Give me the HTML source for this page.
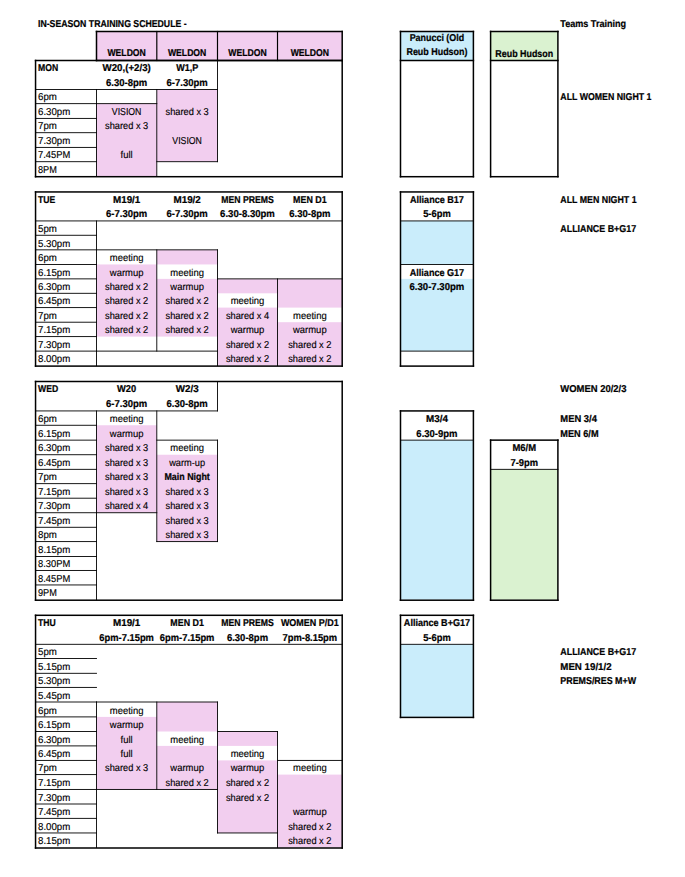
<!DOCTYPE html>
<html><head><meta charset="utf-8"><title>In-Season Training Schedule</title>
<style>html,body{margin:0;padding:0;background:#fff;}svg{display:block;}text{font-family:"Liberation Sans",sans-serif;fill:#000;text-rendering:geometricPrecision;}.b{font-weight:bold;stroke:#000;stroke-width:0.22px;}.r{stroke:#000;stroke-width:0.15px;}</style></head><body>
<svg width="685" height="877" viewBox="0 0 685 877">
<rect x="0" y="0" width="685" height="877" fill="#fff"/>
<rect x="96.5" y="31.5" width="60.3" height="29" fill="#F2CEEF"/>
<rect x="156.8" y="31.5" width="60.7" height="29" fill="#F2CEEF"/>
<rect x="217.5" y="31.5" width="60" height="29" fill="#F2CEEF"/>
<rect x="277.5" y="31.5" width="64.7" height="29" fill="#F2CEEF"/>
<rect x="400.5" y="31.5" width="72.9" height="29" fill="#CAEDFB"/>
<rect x="490.6" y="31.5" width="67.3" height="29" fill="#DAF2D0"/>
<rect x="96.5" y="103.65" width="60.3" height="72.55" fill="#F2CEEF"/>
<rect x="156.8" y="89.5" width="60.7" height="72.2" fill="#F2CEEF"/>
<rect x="96.5" y="264.45" width="60.3" height="72.15" fill="#F2CEEF"/>
<rect x="156.8" y="249.85" width="60.7" height="14.6" fill="#F2CEEF"/>
<rect x="156.8" y="278.87" width="60.7" height="57.73" fill="#F2CEEF"/>
<rect x="217.5" y="278.87" width="60" height="14.43" fill="#F2CEEF"/>
<rect x="217.5" y="307.6" width="60" height="58" fill="#F2CEEF"/>
<rect x="277.5" y="278.87" width="64.7" height="28.73" fill="#F2CEEF"/>
<rect x="277.5" y="322.2" width="64.7" height="43.4" fill="#F2CEEF"/>
<rect x="400.5" y="220.93" width="72.9" height="43.52" fill="#CAEDFB"/>
<rect x="400.5" y="278.87" width="72.9" height="72.23" fill="#CAEDFB"/>
<rect x="96.5" y="425.26" width="60.3" height="87.48" fill="#F2CEEF"/>
<rect x="156.8" y="454.73" width="60.7" height="86.87" fill="#F2CEEF"/>
<rect x="400.5" y="440.13" width="72.9" height="159.57" fill="#CAEDFB"/>
<rect x="490.6" y="469.33" width="67.3" height="130.37" fill="#DAF2D0"/>
<rect x="96.5" y="716.9" width="60.3" height="72.53" fill="#F2CEEF"/>
<rect x="156.8" y="702" width="60.7" height="29.5" fill="#F2CEEF"/>
<rect x="156.8" y="745.9" width="60.7" height="43.53" fill="#F2CEEF"/>
<rect x="217.5" y="731.5" width="60" height="14.4" fill="#F2CEEF"/>
<rect x="217.5" y="760.4" width="60" height="72.56" fill="#F2CEEF"/>
<rect x="277.5" y="774.6" width="64.7" height="72.9" fill="#F2CEEF"/>
<rect x="400.5" y="644.3" width="72.9" height="72.6" fill="#CAEDFB"/>
<rect x="95.75" y="30.75" width="247.2" height="1.5" fill="#000"/>
<rect x="95.75" y="59.75" width="247.2" height="1.5" fill="#000"/>
<rect x="95.75" y="30.75" width="1.5" height="30.5" fill="#000"/>
<rect x="341.45" y="30.75" width="1.5" height="30.5" fill="#000"/>
<rect x="156.22" y="30.91" width="1.17" height="30.17" fill="#000"/>
<rect x="216.91" y="30.91" width="1.17" height="30.17" fill="#000"/>
<rect x="276.92" y="30.91" width="1.17" height="30.17" fill="#000"/>
<rect x="399.75" y="30.75" width="74.4" height="1.5" fill="#000"/>
<rect x="399.75" y="175.95" width="74.4" height="1.5" fill="#000"/>
<rect x="399.75" y="30.75" width="1.5" height="146.7" fill="#000"/>
<rect x="472.65" y="30.75" width="1.5" height="146.7" fill="#000"/>
<rect x="489.85" y="30.75" width="68.8" height="1.5" fill="#000"/>
<rect x="489.85" y="175.95" width="68.8" height="1.5" fill="#000"/>
<rect x="489.85" y="30.75" width="1.5" height="146.7" fill="#000"/>
<rect x="557.15" y="30.75" width="1.5" height="146.7" fill="#000"/>
<rect x="399.75" y="59.75" width="74.4" height="1.5" fill="#000"/>
<rect x="489.85" y="59.75" width="68.8" height="1.5" fill="#000"/>
<rect x="34.8" y="59.75" width="308.15" height="1.5" fill="#000"/>
<rect x="34.8" y="175.95" width="308.15" height="1.5" fill="#000"/>
<rect x="34.8" y="59.75" width="1.5" height="117.7" fill="#000"/>
<rect x="341.45" y="59.75" width="1.5" height="117.7" fill="#000"/>
<rect x="35.1" y="89.05" width="182.85" height="0.9" fill="#000"/>
<rect x="96.05" y="89.05" width="0.9" height="87.6" fill="#000"/>
<rect x="156.35" y="89.05" width="0.9" height="87.6" fill="#000"/>
<rect x="217.05" y="60.05" width="0.9" height="102.1" fill="#000"/>
<rect x="35.1" y="103.2" width="61.85" height="0.9" fill="#000"/>
<rect x="35.1" y="117.95" width="61.85" height="0.9" fill="#000"/>
<rect x="35.1" y="132.25" width="61.85" height="0.9" fill="#000"/>
<rect x="35.1" y="146.95" width="61.85" height="0.9" fill="#000"/>
<rect x="35.1" y="161.25" width="61.85" height="0.9" fill="#000"/>
<rect x="96.05" y="103.2" width="61.2" height="0.9" fill="#000"/>
<rect x="156.35" y="161.25" width="61.6" height="0.9" fill="#000"/>
<rect x="34.8" y="191.2" width="308.15" height="1.5" fill="#000"/>
<rect x="34.8" y="365.35" width="308.15" height="1.5" fill="#000"/>
<rect x="34.8" y="191.2" width="1.5" height="175.65" fill="#000"/>
<rect x="341.45" y="191.2" width="1.5" height="175.65" fill="#000"/>
<rect x="35.1" y="220.48" width="307.55" height="0.9" fill="#000"/>
<rect x="96.05" y="220.48" width="0.9" height="145.57" fill="#000"/>
<rect x="35.1" y="234.81" width="61.85" height="0.9" fill="#000"/>
<rect x="35.1" y="249.4" width="61.85" height="0.9" fill="#000"/>
<rect x="35.1" y="264" width="61.85" height="0.9" fill="#000"/>
<rect x="35.1" y="278.42" width="61.85" height="0.9" fill="#000"/>
<rect x="35.1" y="292.85" width="61.85" height="0.9" fill="#000"/>
<rect x="35.1" y="307.15" width="61.85" height="0.9" fill="#000"/>
<rect x="35.1" y="321.75" width="61.85" height="0.9" fill="#000"/>
<rect x="35.1" y="336.15" width="61.85" height="0.9" fill="#000"/>
<rect x="35.1" y="350.65" width="61.85" height="0.9" fill="#000"/>
<rect x="96.05" y="249.4" width="121.9" height="0.9" fill="#000"/>
<rect x="96.05" y="350.65" width="121.9" height="0.9" fill="#000"/>
<rect x="156.35" y="249.4" width="0.9" height="102.15" fill="#000"/>
<rect x="217.05" y="249.4" width="0.9" height="116.65" fill="#000"/>
<rect x="217.05" y="278.42" width="125.6" height="0.9" fill="#000"/>
<rect x="277.05" y="278.42" width="0.9" height="87.63" fill="#000"/>
<rect x="399.75" y="191.2" width="74.4" height="1.5" fill="#000"/>
<rect x="399.75" y="365.35" width="74.4" height="1.5" fill="#000"/>
<rect x="399.75" y="191.2" width="1.5" height="175.65" fill="#000"/>
<rect x="472.65" y="191.2" width="1.5" height="175.65" fill="#000"/>
<rect x="400.05" y="220.48" width="73.8" height="0.9" fill="#000"/>
<rect x="400.05" y="264" width="73.8" height="0.9" fill="#000"/>
<rect x="400.05" y="350.65" width="73.8" height="0.9" fill="#000"/>
<rect x="34.8" y="380.75" width="308.15" height="1.5" fill="#000"/>
<rect x="34.8" y="599.45" width="308.15" height="1.5" fill="#000"/>
<rect x="34.8" y="380.75" width="1.5" height="220.2" fill="#000"/>
<rect x="341.45" y="380.75" width="1.5" height="220.2" fill="#000"/>
<rect x="35.1" y="410.48" width="182.85" height="0.9" fill="#000"/>
<rect x="217.05" y="381.05" width="0.9" height="30.33" fill="#000"/>
<rect x="96.05" y="410.48" width="0.9" height="189.67" fill="#000"/>
<rect x="35.1" y="424.81" width="61.85" height="0.9" fill="#000"/>
<rect x="35.1" y="439.68" width="61.85" height="0.9" fill="#000"/>
<rect x="35.1" y="454.28" width="61.85" height="0.9" fill="#000"/>
<rect x="35.1" y="468.88" width="61.85" height="0.9" fill="#000"/>
<rect x="35.1" y="483.2" width="61.85" height="0.9" fill="#000"/>
<rect x="35.1" y="497.74" width="61.85" height="0.9" fill="#000"/>
<rect x="35.1" y="512.29" width="61.85" height="0.9" fill="#000"/>
<rect x="35.1" y="526.83" width="61.85" height="0.9" fill="#000"/>
<rect x="35.1" y="541.15" width="61.85" height="0.9" fill="#000"/>
<rect x="35.1" y="556.03" width="61.85" height="0.9" fill="#000"/>
<rect x="35.1" y="569.99" width="61.85" height="0.9" fill="#000"/>
<rect x="35.1" y="584.5" width="61.85" height="0.9" fill="#000"/>
<rect x="96.05" y="512.29" width="61.2" height="0.9" fill="#000"/>
<rect x="156.35" y="410.48" width="0.9" height="131.57" fill="#000"/>
<rect x="156.35" y="439.68" width="61.6" height="0.9" fill="#000"/>
<rect x="156.35" y="541.15" width="61.6" height="0.9" fill="#000"/>
<rect x="217.05" y="439.68" width="0.9" height="102.37" fill="#000"/>
<rect x="399.75" y="410.18" width="74.4" height="1.5" fill="#000"/>
<rect x="399.75" y="599.45" width="74.4" height="1.5" fill="#000"/>
<rect x="399.75" y="410.18" width="1.5" height="190.77" fill="#000"/>
<rect x="472.65" y="410.18" width="1.5" height="190.77" fill="#000"/>
<rect x="400.05" y="439.68" width="73.8" height="0.9" fill="#000"/>
<rect x="489.85" y="439.38" width="68.8" height="1.5" fill="#000"/>
<rect x="489.85" y="599.45" width="68.8" height="1.5" fill="#000"/>
<rect x="489.85" y="439.38" width="1.5" height="161.57" fill="#000"/>
<rect x="557.15" y="439.38" width="1.5" height="161.57" fill="#000"/>
<rect x="490.15" y="468.88" width="68.2" height="0.9" fill="#000"/>
<rect x="34.8" y="614.55" width="308.15" height="1.5" fill="#000"/>
<rect x="34.8" y="847.25" width="308.15" height="1.5" fill="#000"/>
<rect x="34.8" y="614.55" width="1.5" height="234.2" fill="#000"/>
<rect x="341.45" y="614.55" width="1.5" height="234.2" fill="#000"/>
<rect x="35.1" y="643.85" width="307.55" height="0.9" fill="#000"/>
<rect x="35.1" y="658.02" width="61.85" height="0.9" fill="#000"/>
<rect x="35.1" y="672.85" width="61.85" height="0.9" fill="#000"/>
<rect x="35.1" y="686.95" width="61.85" height="0.9" fill="#000"/>
<rect x="35.1" y="701.55" width="61.85" height="0.9" fill="#000"/>
<rect x="35.1" y="716.45" width="61.85" height="0.9" fill="#000"/>
<rect x="35.1" y="731.05" width="61.85" height="0.9" fill="#000"/>
<rect x="35.1" y="745.45" width="61.85" height="0.9" fill="#000"/>
<rect x="35.1" y="759.95" width="61.85" height="0.9" fill="#000"/>
<rect x="35.1" y="774.15" width="61.85" height="0.9" fill="#000"/>
<rect x="35.1" y="788.98" width="61.85" height="0.9" fill="#000"/>
<rect x="35.1" y="803.55" width="61.85" height="0.9" fill="#000"/>
<rect x="35.1" y="817.91" width="61.85" height="0.9" fill="#000"/>
<rect x="35.1" y="832.51" width="61.85" height="0.9" fill="#000"/>
<rect x="96.05" y="701.55" width="0.9" height="146.4" fill="#000"/>
<rect x="96.05" y="701.55" width="121.9" height="0.9" fill="#000"/>
<rect x="96.05" y="788.98" width="121.9" height="0.9" fill="#000"/>
<rect x="156.35" y="701.55" width="0.9" height="88.33" fill="#000"/>
<rect x="217.05" y="701.55" width="0.9" height="131.86" fill="#000"/>
<rect x="217.05" y="731.05" width="60.9" height="0.9" fill="#000"/>
<rect x="217.05" y="832.51" width="60.9" height="0.9" fill="#000"/>
<rect x="277.05" y="731.05" width="0.9" height="116.9" fill="#000"/>
<rect x="277.05" y="759.95" width="65.6" height="0.9" fill="#000"/>
<rect x="399.75" y="614.55" width="74.4" height="1.5" fill="#000"/>
<rect x="399.75" y="716.65" width="74.4" height="1.5" fill="#000"/>
<rect x="399.75" y="614.55" width="1.5" height="103.6" fill="#000"/>
<rect x="472.65" y="614.55" width="1.5" height="103.6" fill="#000"/>
<rect x="400.05" y="643.85" width="73.8" height="0.9" fill="#000"/>
<text x="38" y="27.3" text-anchor="start" class="b" font-size="10" textLength="148.61" lengthAdjust="spacingAndGlyphs">IN-SEASON TRAINING SCHEDULE -</text>
<text x="560.3" y="26.6" text-anchor="start" class="b" font-size="10" textLength="65.85" lengthAdjust="spacingAndGlyphs">Teams Training</text>
<text x="126.65" y="56.3" text-anchor="middle" class="b" font-size="10" textLength="38.4" lengthAdjust="spacingAndGlyphs">WELDON</text>
<text x="187.15" y="56.3" text-anchor="middle" class="b" font-size="10" textLength="38.4" lengthAdjust="spacingAndGlyphs">WELDON</text>
<text x="247.5" y="56.3" text-anchor="middle" class="b" font-size="10" textLength="38.4" lengthAdjust="spacingAndGlyphs">WELDON</text>
<text x="309.85" y="56.3" text-anchor="middle" class="b" font-size="10" textLength="38.4" lengthAdjust="spacingAndGlyphs">WELDON</text>
<text x="436.95" y="40.7" text-anchor="middle" class="b" font-size="10" textLength="54.53" lengthAdjust="spacingAndGlyphs">Panucci (Old</text>
<text x="436.95" y="55.2" text-anchor="middle" class="b" font-size="10" textLength="60.97" lengthAdjust="spacingAndGlyphs">Reub Hudson)</text>
<text x="524.25" y="56.5" text-anchor="middle" class="b" font-size="10" textLength="57.82" lengthAdjust="spacingAndGlyphs">Reub Hudson</text>
<text x="38" y="71.4" text-anchor="start" class="b" font-size="10" textLength="20.16" lengthAdjust="spacingAndGlyphs">MON</text>
<text x="126.65" y="71.4" text-anchor="middle" class="b" font-size="10" textLength="48.35" lengthAdjust="spacingAndGlyphs">W20,(+2/3)</text>
<text x="126.65" y="86" text-anchor="middle" class="b" font-size="10" textLength="41.17" lengthAdjust="spacingAndGlyphs">6.30-8pm</text>
<text x="187.15" y="71.4" text-anchor="middle" class="b" font-size="10" textLength="22.04" lengthAdjust="spacingAndGlyphs">W1,P</text>
<text x="187.15" y="86" text-anchor="middle" class="b" font-size="10" textLength="41.17" lengthAdjust="spacingAndGlyphs">6-7.30pm</text>
<text x="38" y="100.35" text-anchor="start" class="r" font-size="10" textLength="18.86" lengthAdjust="spacingAndGlyphs">6pm</text>
<text x="38" y="115.1" text-anchor="start" class="r" font-size="10" textLength="32.27" lengthAdjust="spacingAndGlyphs">6.30pm</text>
<text x="38" y="129.4" text-anchor="start" class="r" font-size="10" textLength="18.86" lengthAdjust="spacingAndGlyphs">7pm</text>
<text x="38" y="144.1" text-anchor="start" class="r" font-size="10" textLength="32.27" lengthAdjust="spacingAndGlyphs">7.30pm</text>
<text x="38" y="158.4" text-anchor="start" class="r" font-size="10" textLength="32.24" lengthAdjust="spacingAndGlyphs">7.45PM</text>
<text x="38" y="172.9" text-anchor="start" class="r" font-size="10" textLength="18.83" lengthAdjust="spacingAndGlyphs">8PM</text>
<text x="126.65" y="115.1" text-anchor="middle" class="r" font-size="10" textLength="29.59" lengthAdjust="spacingAndGlyphs">VISION</text>
<text x="126.65" y="129.4" text-anchor="middle" class="r" font-size="10" textLength="43.24" lengthAdjust="spacingAndGlyphs">shared x 3</text>
<text x="126.65" y="158.4" text-anchor="middle" class="r" font-size="10" textLength="12.08" lengthAdjust="spacingAndGlyphs">full</text>
<text x="187.15" y="115.1" text-anchor="middle" class="r" font-size="10" textLength="43.24" lengthAdjust="spacingAndGlyphs">shared x 3</text>
<text x="187.15" y="144.1" text-anchor="middle" class="r" font-size="10" textLength="29.59" lengthAdjust="spacingAndGlyphs">VISION</text>
<text x="560.3" y="100.35" text-anchor="start" class="b" font-size="10" textLength="91.13" lengthAdjust="spacingAndGlyphs">ALL WOMEN NIGHT 1</text>
<text x="38" y="202.85" text-anchor="start" class="b" font-size="10" textLength="17.28" lengthAdjust="spacingAndGlyphs">TUE</text>
<text x="126.65" y="202.85" text-anchor="middle" class="b" font-size="10" textLength="27.43" lengthAdjust="spacingAndGlyphs">M19/1</text>
<text x="126.65" y="217.43" text-anchor="middle" class="b" font-size="10" textLength="41.17" lengthAdjust="spacingAndGlyphs">6-7.30pm</text>
<text x="187.15" y="202.85" text-anchor="middle" class="b" font-size="10" textLength="27.43" lengthAdjust="spacingAndGlyphs">M19/2</text>
<text x="187.15" y="217.43" text-anchor="middle" class="b" font-size="10" textLength="41.17" lengthAdjust="spacingAndGlyphs">6-7.30pm</text>
<text x="247.5" y="202.85" text-anchor="middle" class="b" font-size="10" textLength="52.56" lengthAdjust="spacingAndGlyphs">MEN PREMS</text>
<text x="247.5" y="217.43" text-anchor="middle" class="b" font-size="10" textLength="54.79" lengthAdjust="spacingAndGlyphs">6.30-8.30pm</text>
<text x="309.85" y="202.85" text-anchor="middle" class="b" font-size="10" textLength="33.56" lengthAdjust="spacingAndGlyphs">MEN D1</text>
<text x="309.85" y="217.43" text-anchor="middle" class="b" font-size="10" textLength="41.17" lengthAdjust="spacingAndGlyphs">6.30-8pm</text>
<text x="38" y="231.96" text-anchor="start" class="r" font-size="10" textLength="18.86" lengthAdjust="spacingAndGlyphs">5pm</text>
<text x="38" y="246.55" text-anchor="start" class="r" font-size="10" textLength="32.27" lengthAdjust="spacingAndGlyphs">5.30pm</text>
<text x="38" y="261.15" text-anchor="start" class="r" font-size="10" textLength="18.86" lengthAdjust="spacingAndGlyphs">6pm</text>
<text x="38" y="275.57" text-anchor="start" class="r" font-size="10" textLength="32.27" lengthAdjust="spacingAndGlyphs">6.15pm</text>
<text x="38" y="290" text-anchor="start" class="r" font-size="10" textLength="32.27" lengthAdjust="spacingAndGlyphs">6.30pm</text>
<text x="38" y="304.3" text-anchor="start" class="r" font-size="10" textLength="32.27" lengthAdjust="spacingAndGlyphs">6.45pm</text>
<text x="38" y="318.9" text-anchor="start" class="r" font-size="10" textLength="18.86" lengthAdjust="spacingAndGlyphs">7pm</text>
<text x="38" y="333.3" text-anchor="start" class="r" font-size="10" textLength="32.27" lengthAdjust="spacingAndGlyphs">7.15pm</text>
<text x="38" y="347.8" text-anchor="start" class="r" font-size="10" textLength="32.27" lengthAdjust="spacingAndGlyphs">7.30pm</text>
<text x="38" y="362.3" text-anchor="start" class="r" font-size="10" textLength="32.27" lengthAdjust="spacingAndGlyphs">8.00pm</text>
<text x="126.65" y="261.15" text-anchor="middle" class="r" font-size="10" textLength="33.62" lengthAdjust="spacingAndGlyphs">meeting</text>
<text x="126.65" y="275.57" text-anchor="middle" class="r" font-size="10" textLength="33.61" lengthAdjust="spacingAndGlyphs">warmup</text>
<text x="126.65" y="290" text-anchor="middle" class="r" font-size="10" textLength="43.24" lengthAdjust="spacingAndGlyphs">shared x 2</text>
<text x="126.65" y="304.3" text-anchor="middle" class="r" font-size="10" textLength="43.24" lengthAdjust="spacingAndGlyphs">shared x 2</text>
<text x="126.65" y="318.9" text-anchor="middle" class="r" font-size="10" textLength="43.24" lengthAdjust="spacingAndGlyphs">shared x 2</text>
<text x="126.65" y="333.3" text-anchor="middle" class="r" font-size="10" textLength="43.24" lengthAdjust="spacingAndGlyphs">shared x 2</text>
<text x="187.15" y="275.57" text-anchor="middle" class="r" font-size="10" textLength="33.62" lengthAdjust="spacingAndGlyphs">meeting</text>
<text x="187.15" y="290" text-anchor="middle" class="r" font-size="10" textLength="33.61" lengthAdjust="spacingAndGlyphs">warmup</text>
<text x="187.15" y="304.3" text-anchor="middle" class="r" font-size="10" textLength="43.24" lengthAdjust="spacingAndGlyphs">shared x 2</text>
<text x="187.15" y="318.9" text-anchor="middle" class="r" font-size="10" textLength="43.24" lengthAdjust="spacingAndGlyphs">shared x 2</text>
<text x="187.15" y="333.3" text-anchor="middle" class="r" font-size="10" textLength="43.24" lengthAdjust="spacingAndGlyphs">shared x 2</text>
<text x="247.5" y="304.3" text-anchor="middle" class="r" font-size="10" textLength="33.62" lengthAdjust="spacingAndGlyphs">meeting</text>
<text x="247.5" y="318.9" text-anchor="middle" class="r" font-size="10" textLength="43.24" lengthAdjust="spacingAndGlyphs">shared x 4</text>
<text x="247.5" y="333.3" text-anchor="middle" class="r" font-size="10" textLength="33.61" lengthAdjust="spacingAndGlyphs">warmup</text>
<text x="247.5" y="347.8" text-anchor="middle" class="r" font-size="10" textLength="43.24" lengthAdjust="spacingAndGlyphs">shared x 2</text>
<text x="247.5" y="362.3" text-anchor="middle" class="r" font-size="10" textLength="43.24" lengthAdjust="spacingAndGlyphs">shared x 2</text>
<text x="309.85" y="318.9" text-anchor="middle" class="r" font-size="10" textLength="33.62" lengthAdjust="spacingAndGlyphs">meeting</text>
<text x="309.85" y="333.3" text-anchor="middle" class="r" font-size="10" textLength="33.61" lengthAdjust="spacingAndGlyphs">warmup</text>
<text x="309.85" y="347.8" text-anchor="middle" class="r" font-size="10" textLength="43.24" lengthAdjust="spacingAndGlyphs">shared x 2</text>
<text x="309.85" y="362.3" text-anchor="middle" class="r" font-size="10" textLength="43.24" lengthAdjust="spacingAndGlyphs">shared x 2</text>
<text x="436.95" y="202.85" text-anchor="middle" class="b" font-size="10" textLength="53.92" lengthAdjust="spacingAndGlyphs">Alliance B17</text>
<text x="436.95" y="217.43" text-anchor="middle" class="b" font-size="10" textLength="27.55" lengthAdjust="spacingAndGlyphs">5-6pm</text>
<text x="436.95" y="275.57" text-anchor="middle" class="b" font-size="10" textLength="54.41" lengthAdjust="spacingAndGlyphs">Alliance G17</text>
<text x="436.95" y="290" text-anchor="middle" class="b" font-size="10" textLength="54.79" lengthAdjust="spacingAndGlyphs">6.30-7.30pm</text>
<text x="560.3" y="202.85" text-anchor="start" class="b" font-size="10" textLength="76.26" lengthAdjust="spacingAndGlyphs">ALL MEN NIGHT 1</text>
<text x="560.3" y="231.96" text-anchor="start" class="b" font-size="10" textLength="75.79" lengthAdjust="spacingAndGlyphs">ALLIANCE B+G17</text>
<text x="38" y="392.4" text-anchor="start" class="b" font-size="10" textLength="20.16" lengthAdjust="spacingAndGlyphs">WED</text>
<text x="126.65" y="392.4" text-anchor="middle" class="b" font-size="10" textLength="19.14" lengthAdjust="spacingAndGlyphs">W20</text>
<text x="126.65" y="407.43" text-anchor="middle" class="b" font-size="10" textLength="41.17" lengthAdjust="spacingAndGlyphs">6-7.30pm</text>
<text x="187.15" y="392.4" text-anchor="middle" class="b" font-size="10" textLength="22.89" lengthAdjust="spacingAndGlyphs">W2/3</text>
<text x="187.15" y="407.43" text-anchor="middle" class="b" font-size="10" textLength="41.17" lengthAdjust="spacingAndGlyphs">6.30-8pm</text>
<text x="38" y="421.96" text-anchor="start" class="r" font-size="10" textLength="18.86" lengthAdjust="spacingAndGlyphs">6pm</text>
<text x="38" y="436.83" text-anchor="start" class="r" font-size="10" textLength="32.27" lengthAdjust="spacingAndGlyphs">6.15pm</text>
<text x="38" y="451.43" text-anchor="start" class="r" font-size="10" textLength="32.27" lengthAdjust="spacingAndGlyphs">6.30pm</text>
<text x="38" y="466.03" text-anchor="start" class="r" font-size="10" textLength="32.27" lengthAdjust="spacingAndGlyphs">6.45pm</text>
<text x="38" y="480.35" text-anchor="start" class="r" font-size="10" textLength="18.86" lengthAdjust="spacingAndGlyphs">7pm</text>
<text x="38" y="494.89" text-anchor="start" class="r" font-size="10" textLength="32.27" lengthAdjust="spacingAndGlyphs">7.15pm</text>
<text x="38" y="509.44" text-anchor="start" class="r" font-size="10" textLength="32.27" lengthAdjust="spacingAndGlyphs">7.30pm</text>
<text x="38" y="523.98" text-anchor="start" class="r" font-size="10" textLength="32.27" lengthAdjust="spacingAndGlyphs">7.45pm</text>
<text x="38" y="538.3" text-anchor="start" class="r" font-size="10" textLength="18.86" lengthAdjust="spacingAndGlyphs">8pm</text>
<text x="38" y="553.18" text-anchor="start" class="r" font-size="10" textLength="32.27" lengthAdjust="spacingAndGlyphs">8.15pm</text>
<text x="38" y="567.14" text-anchor="start" class="r" font-size="10" textLength="32.24" lengthAdjust="spacingAndGlyphs">8.30PM</text>
<text x="38" y="581.65" text-anchor="start" class="r" font-size="10" textLength="32.24" lengthAdjust="spacingAndGlyphs">8.45PM</text>
<text x="38" y="596.4" text-anchor="start" class="r" font-size="10" textLength="18.83" lengthAdjust="spacingAndGlyphs">9PM</text>
<text x="126.65" y="421.96" text-anchor="middle" class="r" font-size="10" textLength="33.62" lengthAdjust="spacingAndGlyphs">meeting</text>
<text x="126.65" y="436.83" text-anchor="middle" class="r" font-size="10" textLength="33.61" lengthAdjust="spacingAndGlyphs">warmup</text>
<text x="126.65" y="451.43" text-anchor="middle" class="r" font-size="10" textLength="43.24" lengthAdjust="spacingAndGlyphs">shared x 3</text>
<text x="126.65" y="466.03" text-anchor="middle" class="r" font-size="10" textLength="43.24" lengthAdjust="spacingAndGlyphs">shared x 3</text>
<text x="126.65" y="480.35" text-anchor="middle" class="r" font-size="10" textLength="43.24" lengthAdjust="spacingAndGlyphs">shared x 3</text>
<text x="126.65" y="494.89" text-anchor="middle" class="r" font-size="10" textLength="43.24" lengthAdjust="spacingAndGlyphs">shared x 3</text>
<text x="126.65" y="509.44" text-anchor="middle" class="r" font-size="10" textLength="43.24" lengthAdjust="spacingAndGlyphs">shared x 4</text>
<text x="187.15" y="451.43" text-anchor="middle" class="r" font-size="10" textLength="33.62" lengthAdjust="spacingAndGlyphs">meeting</text>
<text x="187.15" y="466.03" text-anchor="middle" class="r" font-size="10" textLength="35.94" lengthAdjust="spacingAndGlyphs">warm-up</text>
<text x="187.15" y="480.35" text-anchor="middle" class="b" font-size="10" textLength="45.36" lengthAdjust="spacingAndGlyphs">Main Night</text>
<text x="187.15" y="494.89" text-anchor="middle" class="r" font-size="10" textLength="43.24" lengthAdjust="spacingAndGlyphs">shared x 3</text>
<text x="187.15" y="509.44" text-anchor="middle" class="r" font-size="10" textLength="43.24" lengthAdjust="spacingAndGlyphs">shared x 3</text>
<text x="187.15" y="523.98" text-anchor="middle" class="r" font-size="10" textLength="43.24" lengthAdjust="spacingAndGlyphs">shared x 3</text>
<text x="187.15" y="538.3" text-anchor="middle" class="r" font-size="10" textLength="43.24" lengthAdjust="spacingAndGlyphs">shared x 3</text>
<text x="436.95" y="421.96" text-anchor="middle" class="b" font-size="10" textLength="21.94" lengthAdjust="spacingAndGlyphs">M3/4</text>
<text x="436.95" y="436.83" text-anchor="middle" class="b" font-size="10" textLength="41.17" lengthAdjust="spacingAndGlyphs">6.30-9pm</text>
<text x="524.25" y="451.43" text-anchor="middle" class="b" font-size="10" textLength="23.64" lengthAdjust="spacingAndGlyphs">M6/M</text>
<text x="524.25" y="466.03" text-anchor="middle" class="b" font-size="10" textLength="27.55" lengthAdjust="spacingAndGlyphs">7-9pm</text>
<text x="560.3" y="392.4" text-anchor="start" class="b" font-size="10" textLength="66.18" lengthAdjust="spacingAndGlyphs">WOMEN 20/2/3</text>
<text x="560.3" y="421.96" text-anchor="start" class="b" font-size="10" textLength="36.57" lengthAdjust="spacingAndGlyphs">MEN 3/4</text>
<text x="560.3" y="436.83" text-anchor="start" class="b" font-size="10" textLength="38.27" lengthAdjust="spacingAndGlyphs">MEN 6/M</text>
<text x="38" y="626.2" text-anchor="start" class="b" font-size="10" textLength="17.76" lengthAdjust="spacingAndGlyphs">THU</text>
<text x="126.65" y="626.2" text-anchor="middle" class="b" font-size="10" textLength="27.43" lengthAdjust="spacingAndGlyphs">M19/1</text>
<text x="126.65" y="640.8" text-anchor="middle" class="b" font-size="10" textLength="54.58" lengthAdjust="spacingAndGlyphs">6pm-7.15pm</text>
<text x="187.15" y="626.2" text-anchor="middle" class="b" font-size="10" textLength="33.56" lengthAdjust="spacingAndGlyphs">MEN D1</text>
<text x="187.15" y="640.8" text-anchor="middle" class="b" font-size="10" textLength="54.58" lengthAdjust="spacingAndGlyphs">6pm-7.15pm</text>
<text x="247.5" y="626.2" text-anchor="middle" class="b" font-size="10" textLength="52.56" lengthAdjust="spacingAndGlyphs">MEN PREMS</text>
<text x="247.5" y="640.8" text-anchor="middle" class="b" font-size="10" textLength="41.17" lengthAdjust="spacingAndGlyphs">6.30-8pm</text>
<text x="309.85" y="626.2" text-anchor="middle" class="b" font-size="10" textLength="57.95" lengthAdjust="spacingAndGlyphs">WOMEN P/D1</text>
<text x="309.85" y="640.8" text-anchor="middle" class="b" font-size="10" textLength="54.58" lengthAdjust="spacingAndGlyphs">7pm-8.15pm</text>
<text x="38" y="655.17" text-anchor="start" class="r" font-size="10" textLength="18.86" lengthAdjust="spacingAndGlyphs">5pm</text>
<text x="38" y="670" text-anchor="start" class="r" font-size="10" textLength="32.27" lengthAdjust="spacingAndGlyphs">5.15pm</text>
<text x="38" y="684.1" text-anchor="start" class="r" font-size="10" textLength="32.27" lengthAdjust="spacingAndGlyphs">5.30pm</text>
<text x="38" y="698.7" text-anchor="start" class="r" font-size="10" textLength="32.27" lengthAdjust="spacingAndGlyphs">5.45pm</text>
<text x="38" y="713.6" text-anchor="start" class="r" font-size="10" textLength="18.86" lengthAdjust="spacingAndGlyphs">6pm</text>
<text x="38" y="728.2" text-anchor="start" class="r" font-size="10" textLength="32.27" lengthAdjust="spacingAndGlyphs">6.15pm</text>
<text x="38" y="742.6" text-anchor="start" class="r" font-size="10" textLength="32.27" lengthAdjust="spacingAndGlyphs">6.30pm</text>
<text x="38" y="757.1" text-anchor="start" class="r" font-size="10" textLength="32.27" lengthAdjust="spacingAndGlyphs">6.45pm</text>
<text x="38" y="771.3" text-anchor="start" class="r" font-size="10" textLength="18.86" lengthAdjust="spacingAndGlyphs">7pm</text>
<text x="38" y="786.13" text-anchor="start" class="r" font-size="10" textLength="32.27" lengthAdjust="spacingAndGlyphs">7.15pm</text>
<text x="38" y="800.7" text-anchor="start" class="r" font-size="10" textLength="32.27" lengthAdjust="spacingAndGlyphs">7.30pm</text>
<text x="38" y="815.06" text-anchor="start" class="r" font-size="10" textLength="32.27" lengthAdjust="spacingAndGlyphs">7.45pm</text>
<text x="38" y="829.66" text-anchor="start" class="r" font-size="10" textLength="32.27" lengthAdjust="spacingAndGlyphs">8.00pm</text>
<text x="38" y="844.2" text-anchor="start" class="r" font-size="10" textLength="32.27" lengthAdjust="spacingAndGlyphs">8.15pm</text>
<text x="126.65" y="713.6" text-anchor="middle" class="r" font-size="10" textLength="33.62" lengthAdjust="spacingAndGlyphs">meeting</text>
<text x="126.65" y="728.2" text-anchor="middle" class="r" font-size="10" textLength="33.61" lengthAdjust="spacingAndGlyphs">warmup</text>
<text x="126.65" y="742.6" text-anchor="middle" class="r" font-size="10" textLength="12.08" lengthAdjust="spacingAndGlyphs">full</text>
<text x="126.65" y="757.1" text-anchor="middle" class="r" font-size="10" textLength="12.08" lengthAdjust="spacingAndGlyphs">full</text>
<text x="126.65" y="771.3" text-anchor="middle" class="r" font-size="10" textLength="43.24" lengthAdjust="spacingAndGlyphs">shared x 3</text>
<text x="187.15" y="742.6" text-anchor="middle" class="r" font-size="10" textLength="33.62" lengthAdjust="spacingAndGlyphs">meeting</text>
<text x="187.15" y="771.3" text-anchor="middle" class="r" font-size="10" textLength="33.61" lengthAdjust="spacingAndGlyphs">warmup</text>
<text x="187.15" y="786.13" text-anchor="middle" class="r" font-size="10" textLength="43.24" lengthAdjust="spacingAndGlyphs">shared x 2</text>
<text x="247.5" y="757.1" text-anchor="middle" class="r" font-size="10" textLength="33.62" lengthAdjust="spacingAndGlyphs">meeting</text>
<text x="247.5" y="771.3" text-anchor="middle" class="r" font-size="10" textLength="33.61" lengthAdjust="spacingAndGlyphs">warmup</text>
<text x="247.5" y="786.13" text-anchor="middle" class="r" font-size="10" textLength="43.24" lengthAdjust="spacingAndGlyphs">shared x 2</text>
<text x="247.5" y="800.7" text-anchor="middle" class="r" font-size="10" textLength="43.24" lengthAdjust="spacingAndGlyphs">shared x 2</text>
<text x="309.85" y="771.3" text-anchor="middle" class="r" font-size="10" textLength="33.62" lengthAdjust="spacingAndGlyphs">meeting</text>
<text x="309.85" y="815.06" text-anchor="middle" class="r" font-size="10" textLength="33.61" lengthAdjust="spacingAndGlyphs">warmup</text>
<text x="309.85" y="829.66" text-anchor="middle" class="r" font-size="10" textLength="43.24" lengthAdjust="spacingAndGlyphs">shared x 2</text>
<text x="309.85" y="844.2" text-anchor="middle" class="r" font-size="10" textLength="43.24" lengthAdjust="spacingAndGlyphs">shared x 2</text>
<text x="436.95" y="626.2" text-anchor="middle" class="b" font-size="10" textLength="66.18" lengthAdjust="spacingAndGlyphs">Alliance B+G17</text>
<text x="436.95" y="640.8" text-anchor="middle" class="b" font-size="10" textLength="27.55" lengthAdjust="spacingAndGlyphs">5-6pm</text>
<text x="560.3" y="655.17" text-anchor="start" class="b" font-size="10" textLength="75.79" lengthAdjust="spacingAndGlyphs">ALLIANCE B+G17</text>
<text x="560.3" y="670" text-anchor="start" class="b" font-size="10" textLength="51.31" lengthAdjust="spacingAndGlyphs">MEN 19/1/2</text>
<text x="560.3" y="684.1" text-anchor="start" class="b" font-size="10" textLength="75.76" lengthAdjust="spacingAndGlyphs">PREMS/RES M+W</text>
</svg></body></html>
